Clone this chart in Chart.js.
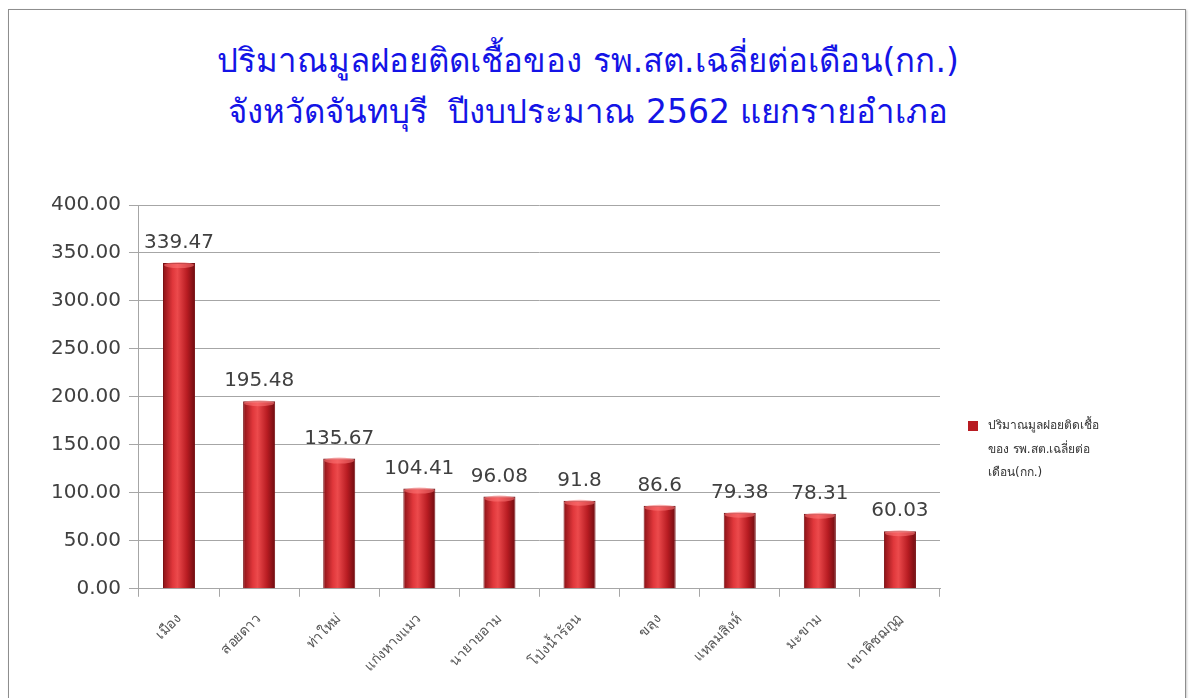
<!DOCTYPE html>
<html>
<head>
<meta charset="utf-8">
<script src="https://cdn.jsdelivr.net/npm/chart.js@4/dist/chart.umd.min.js"></script>
<style>
  body { margin: 0; background: #fff; }
  #frame { position: absolute; left: 8px; top: 9px; width: 1176px; height: 720px; border: 1px solid #8e8e8e; box-shadow: 1px 1px 2px #ccc; }
  #title { position: absolute; left: 0; width: 1176px; top: 35px; text-align: center; color: #1414e6;
           font-family: Tahoma, "DejaVu Sans", "Noto Sans", sans-serif; font-size: 33px; line-height: 51px; }
  #wrap { position: absolute; left: 0; top: 0; width: 1192px; height: 698px; }
  #legend { position: absolute; left: 968px; top: 414px; font-family: Tahoma, "DejaVu Sans", sans-serif;
            font-size: 12px; line-height: 23.5px; color: #333; }
  #legend .box { position: absolute; left: 0; top: 7px; width: 10px; height: 10px; background: #b81c22; }
  #legend .txt { margin-left: 20px; }
</style>
</head>
<body>
<div id="frame"></div>
<div id="title">ปริมาณมูลฝอยติดเชื้อของ รพ.สต.เฉลี่ยต่อเดือน(กก.)<br>จังหวัดจันทบุรี&nbsp; ปีงบประมาณ 2562 แยกรายอำเภอ</div>
<div id="wrap"><canvas id="wasteChart" width="1192" height="698"></canvas></div>
<div id="legend"><span class="box"></span><div class="txt" id="legendText"></div></div>

<script>
// -------- data --------
const districts = ["เมือง", "สอยดาว", "ท่าใหม่", "แก่งหางแมว", "นายายอาม", "โป่งน้ำร้อน", "ขลุง", "แหลมสิงห์", "มะขาม", "เขาคิชฌกูฏ"];
const wasteKg = [339.47, 195.48, 135.67, 104.41, 96.08, 91.8, 86.6, 79.38, 78.31, 60.03];
const yTicks = [0, 50, 100, 150, 200, 250, 300, 350, 400];
const seriesLines = ["ปริมาณมูลฝอยติดเชื้อ", "ของ รพ.สต.เฉลี่ยต่อ", "เดือน(กก.)"];

document.getElementById("legendText").innerHTML = seriesLines.join("<br>");

// cylinder-ish shading for each bar
function barFill(c){
    const chart = c.chart;
    const xs = chart.scales.x;
    if(!chart.chartArea || !xs || c.dataIndex === undefined) return "#c0262b";
    const cx = xs.getPixelForValue(c.dataIndex);
    const g = chart.ctx.createLinearGradient(cx - 16, 0, cx + 16, 0);
    g.addColorStop(0, "#8a1116");
    g.addColorStop(0.3, "#e0373b");
    g.addColorStop(0.45, "#ec4a4c");
    g.addColorStop(0.75, "#b81c22");
    g.addColorStop(1, "#6e0c10");
    return g;
}

// value labels + top caps
const valueLabels = {
    id: "valueLabels",
    afterDatasetsDraw(chart){
        const ctx = chart.ctx;
        const meta = chart.getDatasetMeta(0);
        ctx.save();
        meta.data.forEach(function(bar, i){
            // light cap on top of the bar
            ctx.fillStyle = "rgba(255,120,120,0.55)";
            ctx.beginPath();
            ctx.ellipse(bar.x, bar.y + 2, bar.width / 2 - 1, 3, 0, 0, Math.PI * 2);
            ctx.fill();

            ctx.fillStyle = "#404040";
            ctx.font = "20px 'DejaVu Sans', Verdana, sans-serif";
            ctx.textAlign = "center";
            ctx.textBaseline = "bottom";
            ctx.fillText(String(wasteKg[i]), bar.x, bar.y - 10);
        });
        ctx.restore();
    }
};

new Chart(document.getElementById("wasteChart").getContext("2d"), {
    type: "bar",
    data: {
        labels: districts,
        datasets: [{
            label: seriesLines.join(""),
            data: wasteKg,
            backgroundColor: barFill,
            borderColor: "#7a1014",
            borderWidth: 1,
            barPercentage: 0.5,
            categoryPercentage: 0.8
        }]
    },
    options: {
        responsive: false,
        animation: false,
        layout: { padding: { top: 205, right: 252, left: 43, bottom: 9 } },
        plugins: {
            legend: { display: false },
            title: { display: false },
            tooltip: { enabled: false }
        },
        scales: {
            y: {
                min: 0,
                max: 400,
                afterBuildTicks: function(axis){
                    axis.ticks = yTicks.map(function(v){ return { value: v }; });
                },
                ticks: {
                    color: "#404040",
                    font: { size: 20, family: "'DejaVu Sans', Verdana, sans-serif" },
                    padding: 8,
                    callback: function(v){ return Number(v).toFixed(2); }
                },
                grid: { color: "#a6a6a6", tickLength: 10 },
                border: { color: "#a6a6a6" }
            },
            x: {
                ticks: {
                    color: "#555",
                    font: { size: 14, family: "Tahoma, 'DejaVu Sans', sans-serif" },
                    minRotation: 45,
                    maxRotation: 45,
                    padding: 14
                },
                grid: { drawOnChartArea: false, color: "#a6a6a6", tickLength: 8, offset: true },
                border: { color: "#a6a6a6" }
            }
        }
    },
    plugins: [valueLabels]
});
</script>
</body>
</html>
